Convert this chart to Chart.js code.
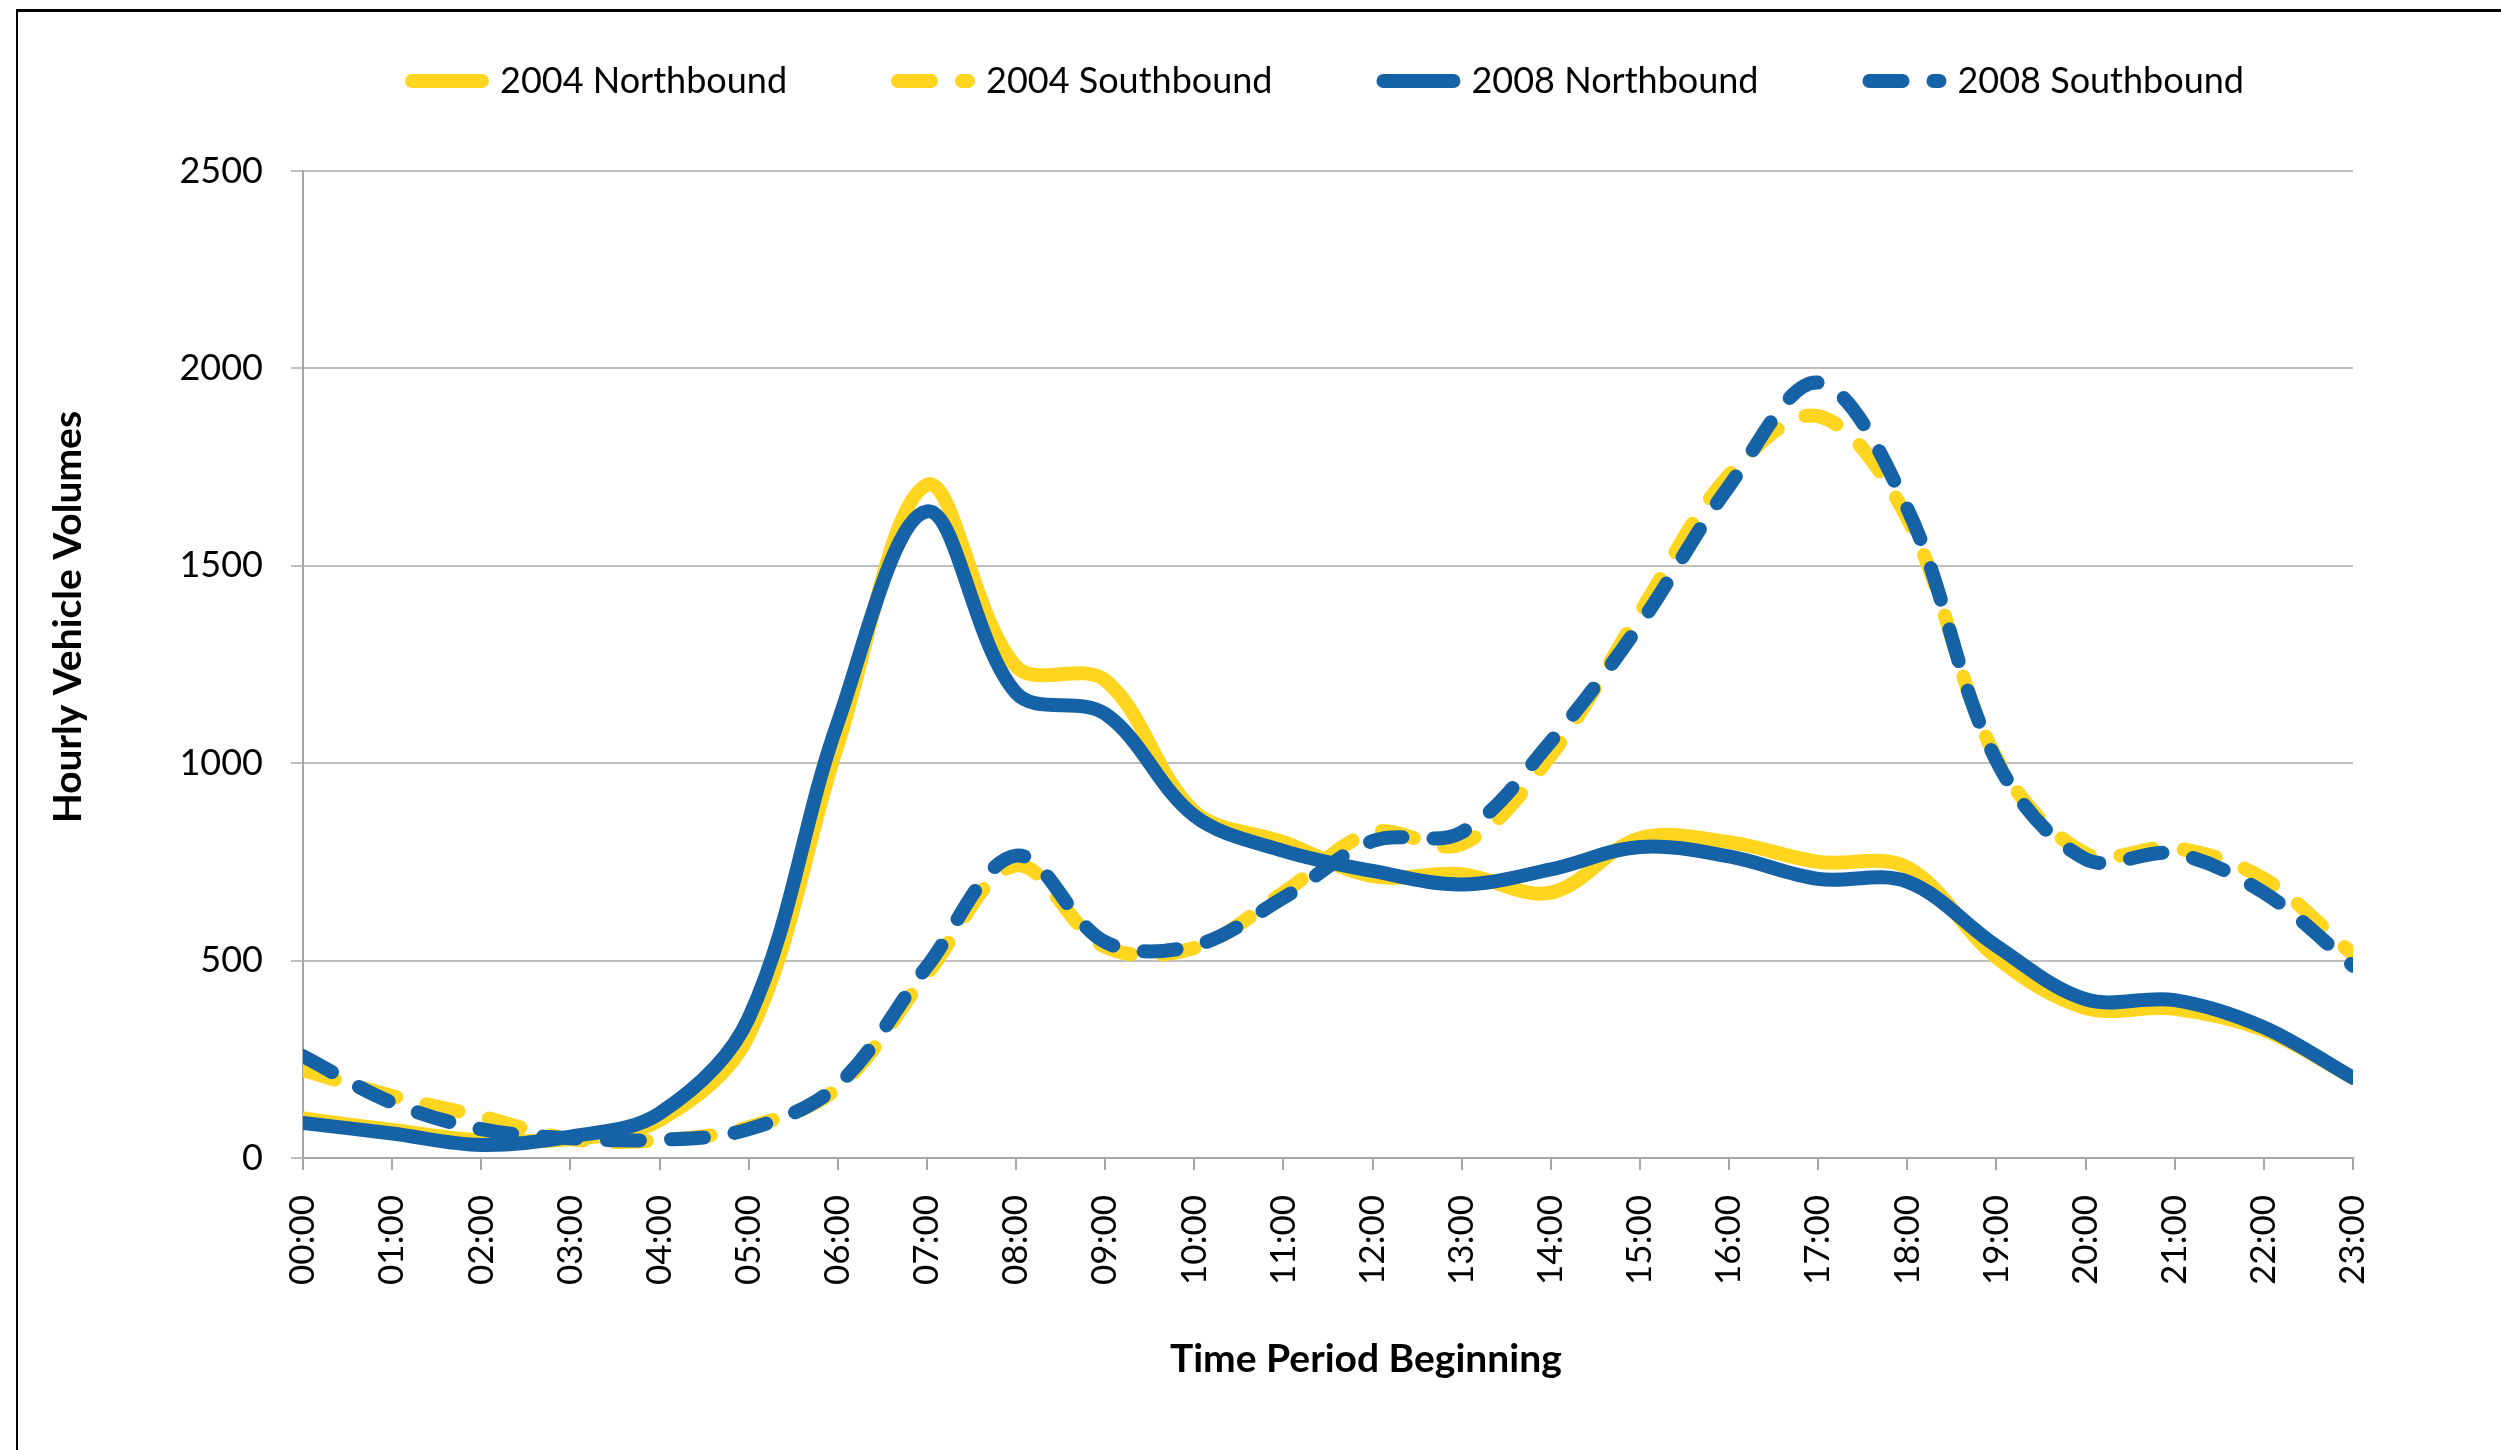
<!DOCTYPE HTML>
<html>

<head>
  <title>Hourly Vehicle Volumes</title>
  <script src="https://cdn.jsdelivr.net/npm/chart.js"></script>
  <style>
    body { margin: 0; overflow: hidden; background: #ffffff; }
    #wrap { position: relative; width: 2501px; height: 1450px; }
    #frame {
      position: absolute; left: 16px; top: 9px; width: 3000px; height: 3000px;
      border-top: 3px solid #000000; border-left: 2px solid #000000; pointer-events: none;
    }
  </style>
</head>

<body>
  <div id="wrap">
    <canvas id="myChart"></canvas>
    <div id="frame"></div>
  </div>

  <script type="text/javascript">

    var hours = ["00:00", "01:00", "02:00", "03:00", "04:00", "05:00", "06:00", "07:00", "08:00", "09:00", "10:00", "11:00",
      "12:00", "13:00", "14:00", "15:00", "16:00", "17:00", "18:00", "19:00", "20:00", "21:00", "22:00", "23:00"];

    var nb2004 = [100, 71, 45, 48, 96, 310, 1047, 1705, 1245, 1210, 878, 800, 714, 719, 672, 810, 800, 750, 736, 508, 380, 378, 324, 203];
    var sb2004 = [223, 157, 105, 48, 45, 78, 178, 466, 741, 535, 532, 672, 825, 795, 1020, 1382, 1730, 1879, 1620, 1013, 771, 785, 707, 516];
    var nb2008 = [89, 62, 33, 54, 113, 354, 1103, 1638, 1178, 1125, 867, 778, 727, 693, 731, 788, 764, 707, 700, 537, 402, 400, 331, 203];
    var sb2008 = [258, 140, 73, 50, 46, 73, 185, 485, 766, 547, 538, 659, 803, 825, 1055, 1352, 1702, 1964, 1645, 1006, 757, 771, 672, 487];

    var yellow = '#FFD51F';
    var blue = '#1562A6';
    var dash = [33, 31];
    var legendGap = '         ';

    function series(label, data, color, dashed, order) {
      return {
        label: label,
        data: data,
        borderColor: color,
        backgroundColor: color,
        borderWidth: 14,
        borderDash: dashed ? dash : [],
        borderCapStyle: 'round',
        borderJoinStyle: 'round',
        pointRadius: 0,
        tension: 0.35,
        fill: false,
        clip: 0,
        order: order
      };
    }

    const ctx = document.getElementById('myChart');

    var myChart = new Chart(ctx, {
      type: 'line',
      data: {
        labels: hours,
        datasets: [
          series('2004 Northbound', nb2004, yellow, false, 4),
          series('2004 Southbound', sb2004, yellow, true, 3),
          series('2008 Northbound', nb2008, blue, false, 2),
          series('2008 Southbound', sb2008, blue, true, 1)
        ]
      },
      options: {
        responsive: true,
        maintainAspectRatio: false,
        animation: false,
        layout: { padding: { left: 0, right: 148, top: 35, bottom: 0 } },
        plugins: {
          tooltip: { enabled: false },
          // empty title used as a spacer between legend and plot
          title: {
            display: true,
            text: '',
            position: 'top',
            weight: 500,
            fullSize: false,
            font: { size: 10 },
            padding: { top: 25, bottom: 25 }
          },
          legend: {
            position: 'top',
            fullSize: false,
            labels: {
              usePointStyle: true,
              pointStyleWidth: 70,
              padding: 28,
              color: '#000000',
              font: { family: 'Lato', size: 36 },
              generateLabels: function (chart) {
                return chart.data.datasets.map(function (ds, i) {
                  return {
                    text: ds.label + (i < 3 ? legendGap : ''),
                    strokeStyle: ds.borderColor,
                    fillStyle: ds.borderColor,
                    lineWidth: ds.borderWidth,
                    lineDash: ds.borderDash,
                    lineCap: 'round',
                    pointStyle: 'line',
                    fontColor: '#000000',
                    hidden: false,
                    datasetIndex: i
                  };
                });
              }
            }
          }
        },
        scales: {
          x: {
            grid: { drawOnChartArea: false, drawTicks: true, tickLength: 12, color: '#a6a6a6', lineWidth: 2 },
            border: { color: '#a6a6a6', width: 2 },
            ticks: {
              autoSkip: false, maxRotation: 90, minRotation: 90, padding: 25,
              color: '#000000', font: { family: 'Lato', size: 35 }
            },
            title: {
              display: true,
              text: '        Time Period Beginning',
              color: '#000000',
              font: { family: 'Lato', size: 39, weight: 'bold' },
              padding: { top: 0, bottom: 67 }
            },
            afterFit: function (scale) { scale.height = 1450 - 1158; }
          },
          y: {
            min: 0,
            max: 2500,
            grid: { color: '#bfbfbf', lineWidth: 2, tickLength: 12 },
            border: { color: '#a6a6a6', width: 2 },
            ticks: {
              stepSize: 500, padding: 28, color: '#000000',
              font: { family: 'Lato', size: 36 },
              callback: function (value) { return value; }
            },
            title: {
              display: true,
              text: '          Hourly Vehicle Volumes',
              color: '#000000',
              font: { family: 'Lato', size: 39, weight: 'bold' },
              padding: { top: 45, bottom: 0 }
            },
            afterFit: function (scale) { scale.width = 303; }
          }
        }
      }
    });

  </script>
</body>

</html>
